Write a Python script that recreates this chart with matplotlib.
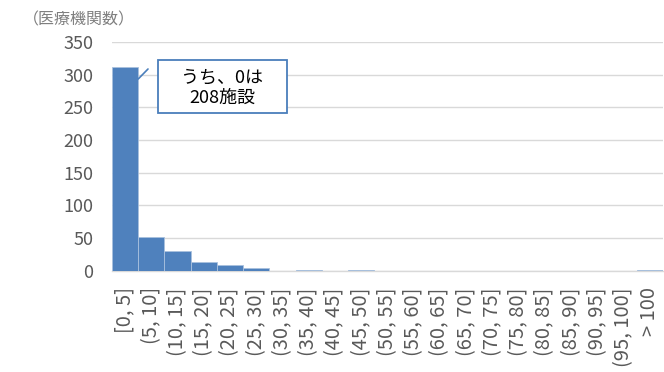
import matplotlib
matplotlib.use("Agg")
import matplotlib.pyplot as plt
from matplotlib.patches import Rectangle
import numpy as np

plt.rcParams["font.family"] = ["Noto Sans CJK JP", "DejaVu Sans"]

# data
categories = ["[0, 5]", "(5, 10]", "(10, 15]", "(15, 20]", "(20, 25]", "(25, 30]",
              "(30, 35]", "(35, 40]", "(40, 45]", "(45, 50]", "(50, 55]", "(55, 60]",
              "(60, 65]", "(65, 70]", "(70, 75]", "(75, 80]", "(80, 85]", "(85, 90]",
              "(90, 95]", "(95, 100]", "> 100"]
counts = [312, 51, 30, 14, 9, 4, 0, 1, 0, 1, 0, 0, 0, 0, 0, 0, 0, 0, 0, 0, 1]
y_ticks = [0, 50, 100, 150, 200, 250, 300, 350]
y_label = "（医療機関数）"
note_text = "うち、0は\n208施設"

W, H = 664, 372
fig = plt.figure(figsize=(W / 100, H / 100), dpi=100)
ax = fig.add_axes([112 / W, 1 - 270.7 / H, 551 / W, (270.7 - 42) / H])

x = np.arange(len(categories))
ax.bar(x, counts, width=1.0, color="#4f81bd", edgecolor="#a9c1de", linewidth=0.6, zorder=3)

ax.set_xlim(-0.5, len(categories) - 0.5)
ax.set_ylim(0, 350)
ax.set_yticks(y_ticks)
ax.set_xticks(x)
ax.set_xticklabels(categories, rotation=90, fontsize=14.5, color="#595959")
ax.tick_params(axis="y", labelsize=13, colors="#595959", length=0, pad=13.5)
ax.tick_params(axis="x", length=0, pad=12)
ax.yaxis.grid(True, color="#d9d9d9", linewidth=1.0, zorder=0)
ax.set_axisbelow(True)
for side in ("top", "right", "left"):
    ax.spines[side].set_visible(False)
ax.spines["bottom"].set_color("#d9d9d9")
ax.spines["bottom"].set_linewidth(1.0)

fig.text(79 / W, 1 - 20 / H, y_label, ha="center", va="center", fontsize=11.5, color="#7f7f7f")


def px(xp, yp):
    return (xp / W, 1 - yp / H)


# callout box
box_x0, box_y0 = px(158, 113)
box_x1, box_y1 = px(287, 60)
fig.patches.append(Rectangle((box_x0, box_y0), box_x1 - box_x0, box_y1 - box_y0,
                             transform=fig.transFigure, facecolor="white",
                             edgecolor="#4a7ebb", linewidth=1.3, zorder=5))
fig.text((box_x0 + box_x1) / 2, (box_y0 + box_y1) / 2 - 1 / H, note_text, ha="center", va="center",
         fontsize=13, color="black", linespacing=1.2, zorder=6)
ax.annotate("", xy=(0.5, (270.7 - 79) / 0.6533), xycoords="data",
            xytext=px(148, 69), textcoords="figure fraction",
            arrowprops=dict(arrowstyle="-", color="#4a7ebb", linewidth=1.2,
                            shrinkA=0, shrinkB=0))

fig.savefig("out.png", dpi=100)
